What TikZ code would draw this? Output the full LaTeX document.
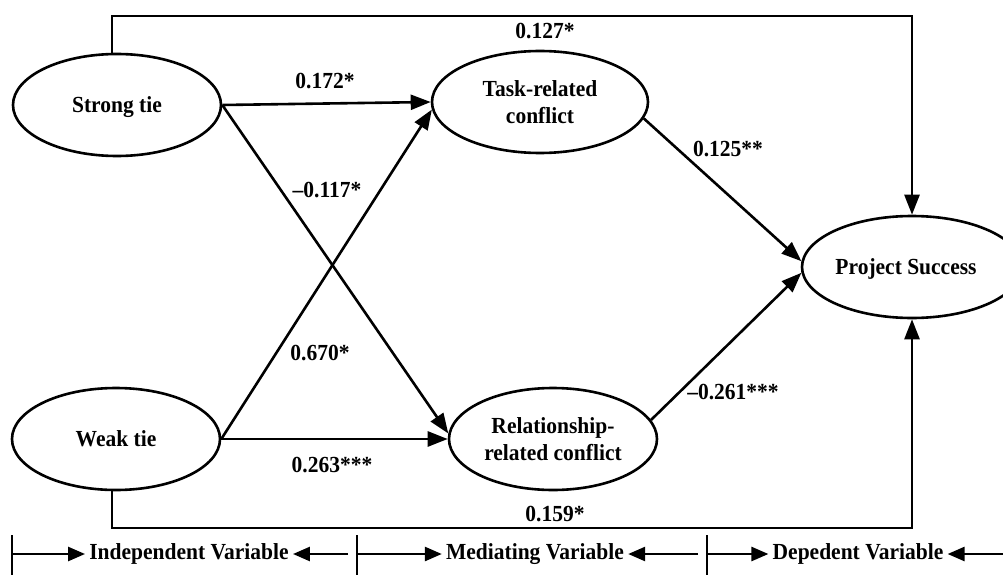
\documentclass[tikz,border=0pt]{standalone}
\usepackage{fontspec}
\setmainfont{Liberation Serif}
\usetikzlibrary{shapes.geometric,arrows.meta}
\newcommand\vstr[1]{\scalebox{1}[1.07]{\begin{tabular}{@{}c@{}}#1\end{tabular}}}
\begin{document}
\begin{tikzpicture}[x=1pt,y=-1pt,
  line width=2.6pt,
  var/.style={draw, ellipse, inner sep=0pt, minimum width=#1, minimum height=102pt},
  var/.default=208pt,
  txt/.style={font=\bfseries\fontsize{21.5}{25}\selectfont, inner sep=0pt, align=center, yshift=-2.5pt},
  btxt/.style={font=\bfseries\fontsize{21.5}{25}\selectfont, inner xsep=3pt, inner ysep=0pt},
  arr/.style={-{Triangle[length=20pt,width=15pt]}},
  arrb/.style={-{Triangle[length=17pt,width=14pt]}}
]
\clip (0,0) rectangle (1003,575);
% variables
\node[var=208pt] (st) at (117,105) {};
\node[var=208pt] (wt) at (116,439) {};
\node[var=216pt] (tc) at (540,102) {};
\node[var=208pt] (rc) at (553,439) {};
\node[var=220pt] (ps) at (912,267) {};
\node[txt] (stt) at (st) {\vstr{Strong tie}};
\node[txt] (wtt) at (wt) {\vstr{Weak tie}};
\node[txt] (tct) at (tc) {\vstr{Task-related\\conflict}};
\node[txt] (rct) at (rc) {\vstr{Relationship-\\related conflict}};
\node[txt] (pst) at (906,267) {\vstr{Project Success}};
% paths
\draw[arr] (st.east) -- (tc.west);
\draw[arr] (st.east) -- (rc.177);
\draw[arr] (wt.east) -- (tc.184);
\draw[arr] (wt.east) -- (rc.west);
\draw[arr] (tc.-9) -- (ps.177);
\draw[arr] (rc.11) -- (ps.183);
\coordinate (tr) at (912,16);
\coordinate (br) at (912,528);
\draw[arr] ([xshift=-5pt]st.north) |- (tr) -- (ps.north);
\draw[arr] ([xshift=-4pt]wt.south) |- (br) -- (ps.south);
% coefficients
\node[txt] (l1) at (545,31) {\vstr{0.127*}};
\node[txt] (l2) at (325,81) {\vstr{0.172*}};
\node[txt] (l3) at (327,190) {\vstr{--0.117*}};
\node[txt] (l4) at (728,149) {\vstr{0.125**}};
\node[txt] (l5) at (320,353) {\vstr{0.670*}};
\node[txt] (l6) at (332,465) {\vstr{0.263***}};
\node[txt] (l7) at (733,392) {\vstr{--0.261***}};
\node[txt] (l8) at (555,514) {\vstr{0.159*}};
% bottom legend
\draw (12,535) -- (12,575);
\draw (357,535) -- (357,575);
\draw (707,535) -- (707,575);
\node[btxt] (iv) at (189,554) {\vstr{Independent Variable}};
\node[btxt] (mv) at (535,554) {\vstr{Mediating Variable}};
\node[btxt] (dv) at (858,554) {\vstr{Depedent Variable}};
\coordinate (a1) at (12,554);
\coordinate (a2) at (348,554);
\coordinate (a3) at (357,554);
\coordinate (a4) at (698,554);
\coordinate (a5) at (707,554);
\coordinate (a6) at (1003,554);
\draw[arrb] (a1) -- (iv.west);
\draw[arrb] (a2) -- (iv.east);
\draw[arrb] (a3) -- (mv.west);
\draw[arrb] (a4) -- (mv.east);
\draw[arrb] (a5) -- (dv.west);
\draw[arrb] (a6) -- (dv.east);
\end{tikzpicture}
\end{document}
